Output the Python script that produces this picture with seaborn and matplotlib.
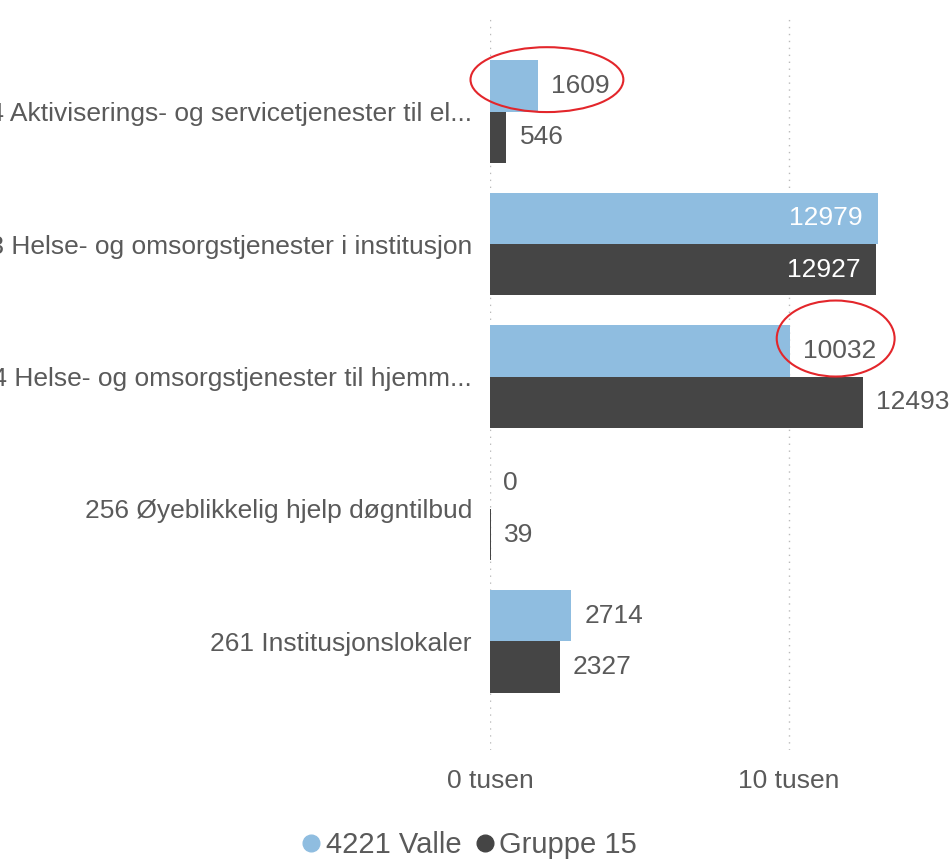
import numpy as np
import pandas as pd
import matplotlib
matplotlib.use('Agg')
import matplotlib.pyplot as plt
from matplotlib.patches import Ellipse
from matplotlib.lines import Line2D
import seaborn as sns

categories = [
    '234 Aktiviserings- og servicetjenester til el...',
    '253 Helse- og omsorgstjenester i institusjon',
    '254 Helse- og omsorgstjenester til hjemm...',
    '256 Øyeblikkelig hjelp døgntilbud',
    '261 Institusjonslokaler',
]
series = ['4221 Valle', 'Gruppe 15']
valle = [1609, 12979, 10032, 0, 2714]
gruppe = [546, 12927, 12493, 39, 2327]
xticks = [0, 10000]
xticklabels = ['0 tusen', '10 tusen']
colors = ['#8fbde0', '#454545']
text_grey = '#5a5a5a'

df = pd.DataFrame({
    'kategori': categories * 2,
    'serie': [series[0]] * 5 + [series[1]] * 5,
    'verdi': valle + gruppe,
})

sns.set_style('white')
plt.rcParams['font.family'] = ['Liberation Sans', 'DejaVu Sans']

fig = plt.figure(figsize=(9.53, 8.65), dpi=100)
ax = fig.add_axes([490 / 953, 1 - 750 / 865, 1 - 490 / 953, (750 - 15) / 865])

sns.barplot(df, y='kategori', x='verdi', hue='serie', palette=colors,
            orient='h', width=0.775, saturation=1, legend=False, linewidth=0, ax=ax)

ax.set_xlim(0, 15500)
ax.set_ylim(4.82, -0.73)
ax.set_xticks(xticks)
ax.set_xticklabels(xticklabels)
ax.set_xlabel('')
ax.set_ylabel('')
ax.tick_params(axis='both', length=0, labelsize=19, labelcolor=text_grey)
ax.tick_params(axis='x', pad=14)
ax.tick_params(axis='y', pad=13)
ax.grid(axis='x', linestyle=(0, (1, 4)), color='#bbbbbb', linewidth=1)
ax.grid(axis='y', visible=False)
for s in ax.spines.values():
    s.set_visible(False)

# value labels: inside (white) if the bar nearly fills the plot, else outside
for cont, vals in zip(ax.containers, [valle, gruppe]):
    for bar, v in zip(cont, vals):
        yc = bar.get_y() + bar.get_height() / 2
        if v > 12800:
            ax.annotate(str(v), (v, yc), xytext=(-11, 0), textcoords='offset points',
                        ha='right', va='center', color='white', fontsize=19)
        else:
            ax.annotate(str(v), (v, yc), xytext=(9.5, 0), textcoords='offset points',
                        ha='left', va='center', color=text_grey, fontsize=19)

# red highlight rings
ax.add_patch(Ellipse((1906, -0.242), 5117, 0.49, fill=False, edgecolor='#e3262b',
                     linewidth=1.5, clip_on=False))
ax.add_patch(Ellipse((11572, 1.713), 3946, 0.574, fill=False, edgecolor='#e3262b',
                     linewidth=1.5, clip_on=False))

handles = [Line2D([], [], marker='o', linestyle='', color=c, markersize=12) for c in colors]
fig.legend(handles, series, loc='center', bbox_to_anchor=(0.49, 20 / 865), ncol=2,
           frameon=False, fontsize=21, handletextpad=0.0, columnspacing=0.3,
           labelcolor=text_grey, handlelength=1.0)

fig.savefig('out.png', dpi=100)
